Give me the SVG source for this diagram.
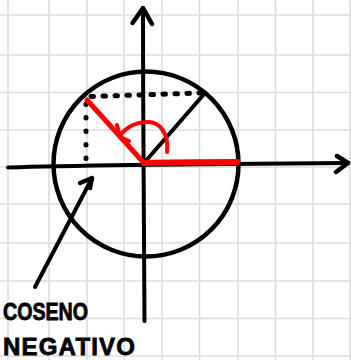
<svg xmlns="http://www.w3.org/2000/svg" width="351" height="360" viewBox="0 0 351 360">
<style>
.grid line{stroke:#dcdcdc;stroke-width:1.6}
.ink{fill:none;stroke:#000;stroke-linecap:round;stroke-linejoin:round}
.red{fill:none;stroke:#ff0000;stroke-linecap:round;stroke-linejoin:round}
.dots{fill:none;stroke:#000;stroke-width:5;stroke-linecap:round}
.lbl{font-family:"Liberation Sans",Arial,sans-serif;font-weight:bold;fill:#000;stroke:#000;stroke-width:0.8}
</style>
<rect width="351" height="360" fill="#fff"/>
<g id="grid" class="grid">
<line x1="8" y1="0" x2="8" y2="360"/>
<line x1="49" y1="0" x2="49" y2="360"/>
<line x1="87" y1="0" x2="87" y2="360"/>
<line x1="124" y1="0" x2="124" y2="360"/>
<line x1="162" y1="0" x2="162" y2="360"/>
<line x1="199.5" y1="0" x2="199.5" y2="360"/>
<line x1="238" y1="0" x2="238" y2="360"/>
<line x1="275.5" y1="0" x2="275.5" y2="360"/>
<line x1="313" y1="0" x2="313" y2="360"/>
<line x1="350" y1="0" x2="350" y2="360"/>
<line x1="0" y1="15" x2="351" y2="15"/>
<line x1="0" y1="55" x2="351" y2="55"/>
<line x1="0" y1="92.5" x2="351" y2="92.5"/>
<line x1="0" y1="130" x2="351" y2="130"/>
<line x1="0" y1="167" x2="351" y2="167"/>
<line x1="0" y1="204" x2="351" y2="204"/>
<line x1="0" y1="243" x2="351" y2="243"/>
<line x1="0" y1="281" x2="351" y2="281"/>
<line x1="0" y1="318.5" x2="351" y2="318.5"/>
<line x1="0" y1="356" x2="351" y2="356"/>
</g>
<g id="axes">
<path class="ink" stroke-width="4" d="M144.5,321 C144,250 143,120 143,8"/>
<path class="ink" stroke-width="4.5" d="M132.5,23 L143,8 L152,24"/>
<path class="ink" stroke-width="4" d="M8,167.5 C80,165 200,164 348,163"/>
<path class="ink" stroke-width="4.5" d="M337,156 L348,163 L336,172"/>
</g>
<g id="circle">
<circle class="ink" stroke-width="4.5" cx="146" cy="164" r="92.5"/>
</g>
<g id="projection">
<path class="dots" stroke-dasharray="2.5 9.5" d="M91,96.5 L200,93"/>
<path class="dots" stroke-dasharray="0.5 13" d="M86,104 L86,160"/>
</g>
<g id="radius">
<path class="ink" stroke-width="4" d="M144,163 L205,93"/>
</g>
<g id="angle">
<path class="red" stroke-width="6" d="M144,163 C175,162 205,162 237,162"/>
<path class="red" stroke-width="5" d="M144,163 L87,100"/>
<path class="red" stroke-width="4" d="M167,152 C169,132 159,122 148,122 C135,122 125,128 120,136"/>
<path class="red" stroke-width="4" d="M117,125 L120,137 L129,141"/>
</g>
<g id="connectors">
<path class="ink" stroke-width="4" d="M35,287 L91,180"/>
<path class="ink" stroke-width="4.5" d="M80,183 L92,178 L90,188"/>
</g>
<g id="label">
<text class="lbl" x="3" y="320" font-size="24" textLength="85" lengthAdjust="spacingAndGlyphs">COSENO</text>
<text class="lbl" x="3" y="355" font-size="24" textLength="132" lengthAdjust="spacing">NEGATIVO</text>
</g>
</svg>
